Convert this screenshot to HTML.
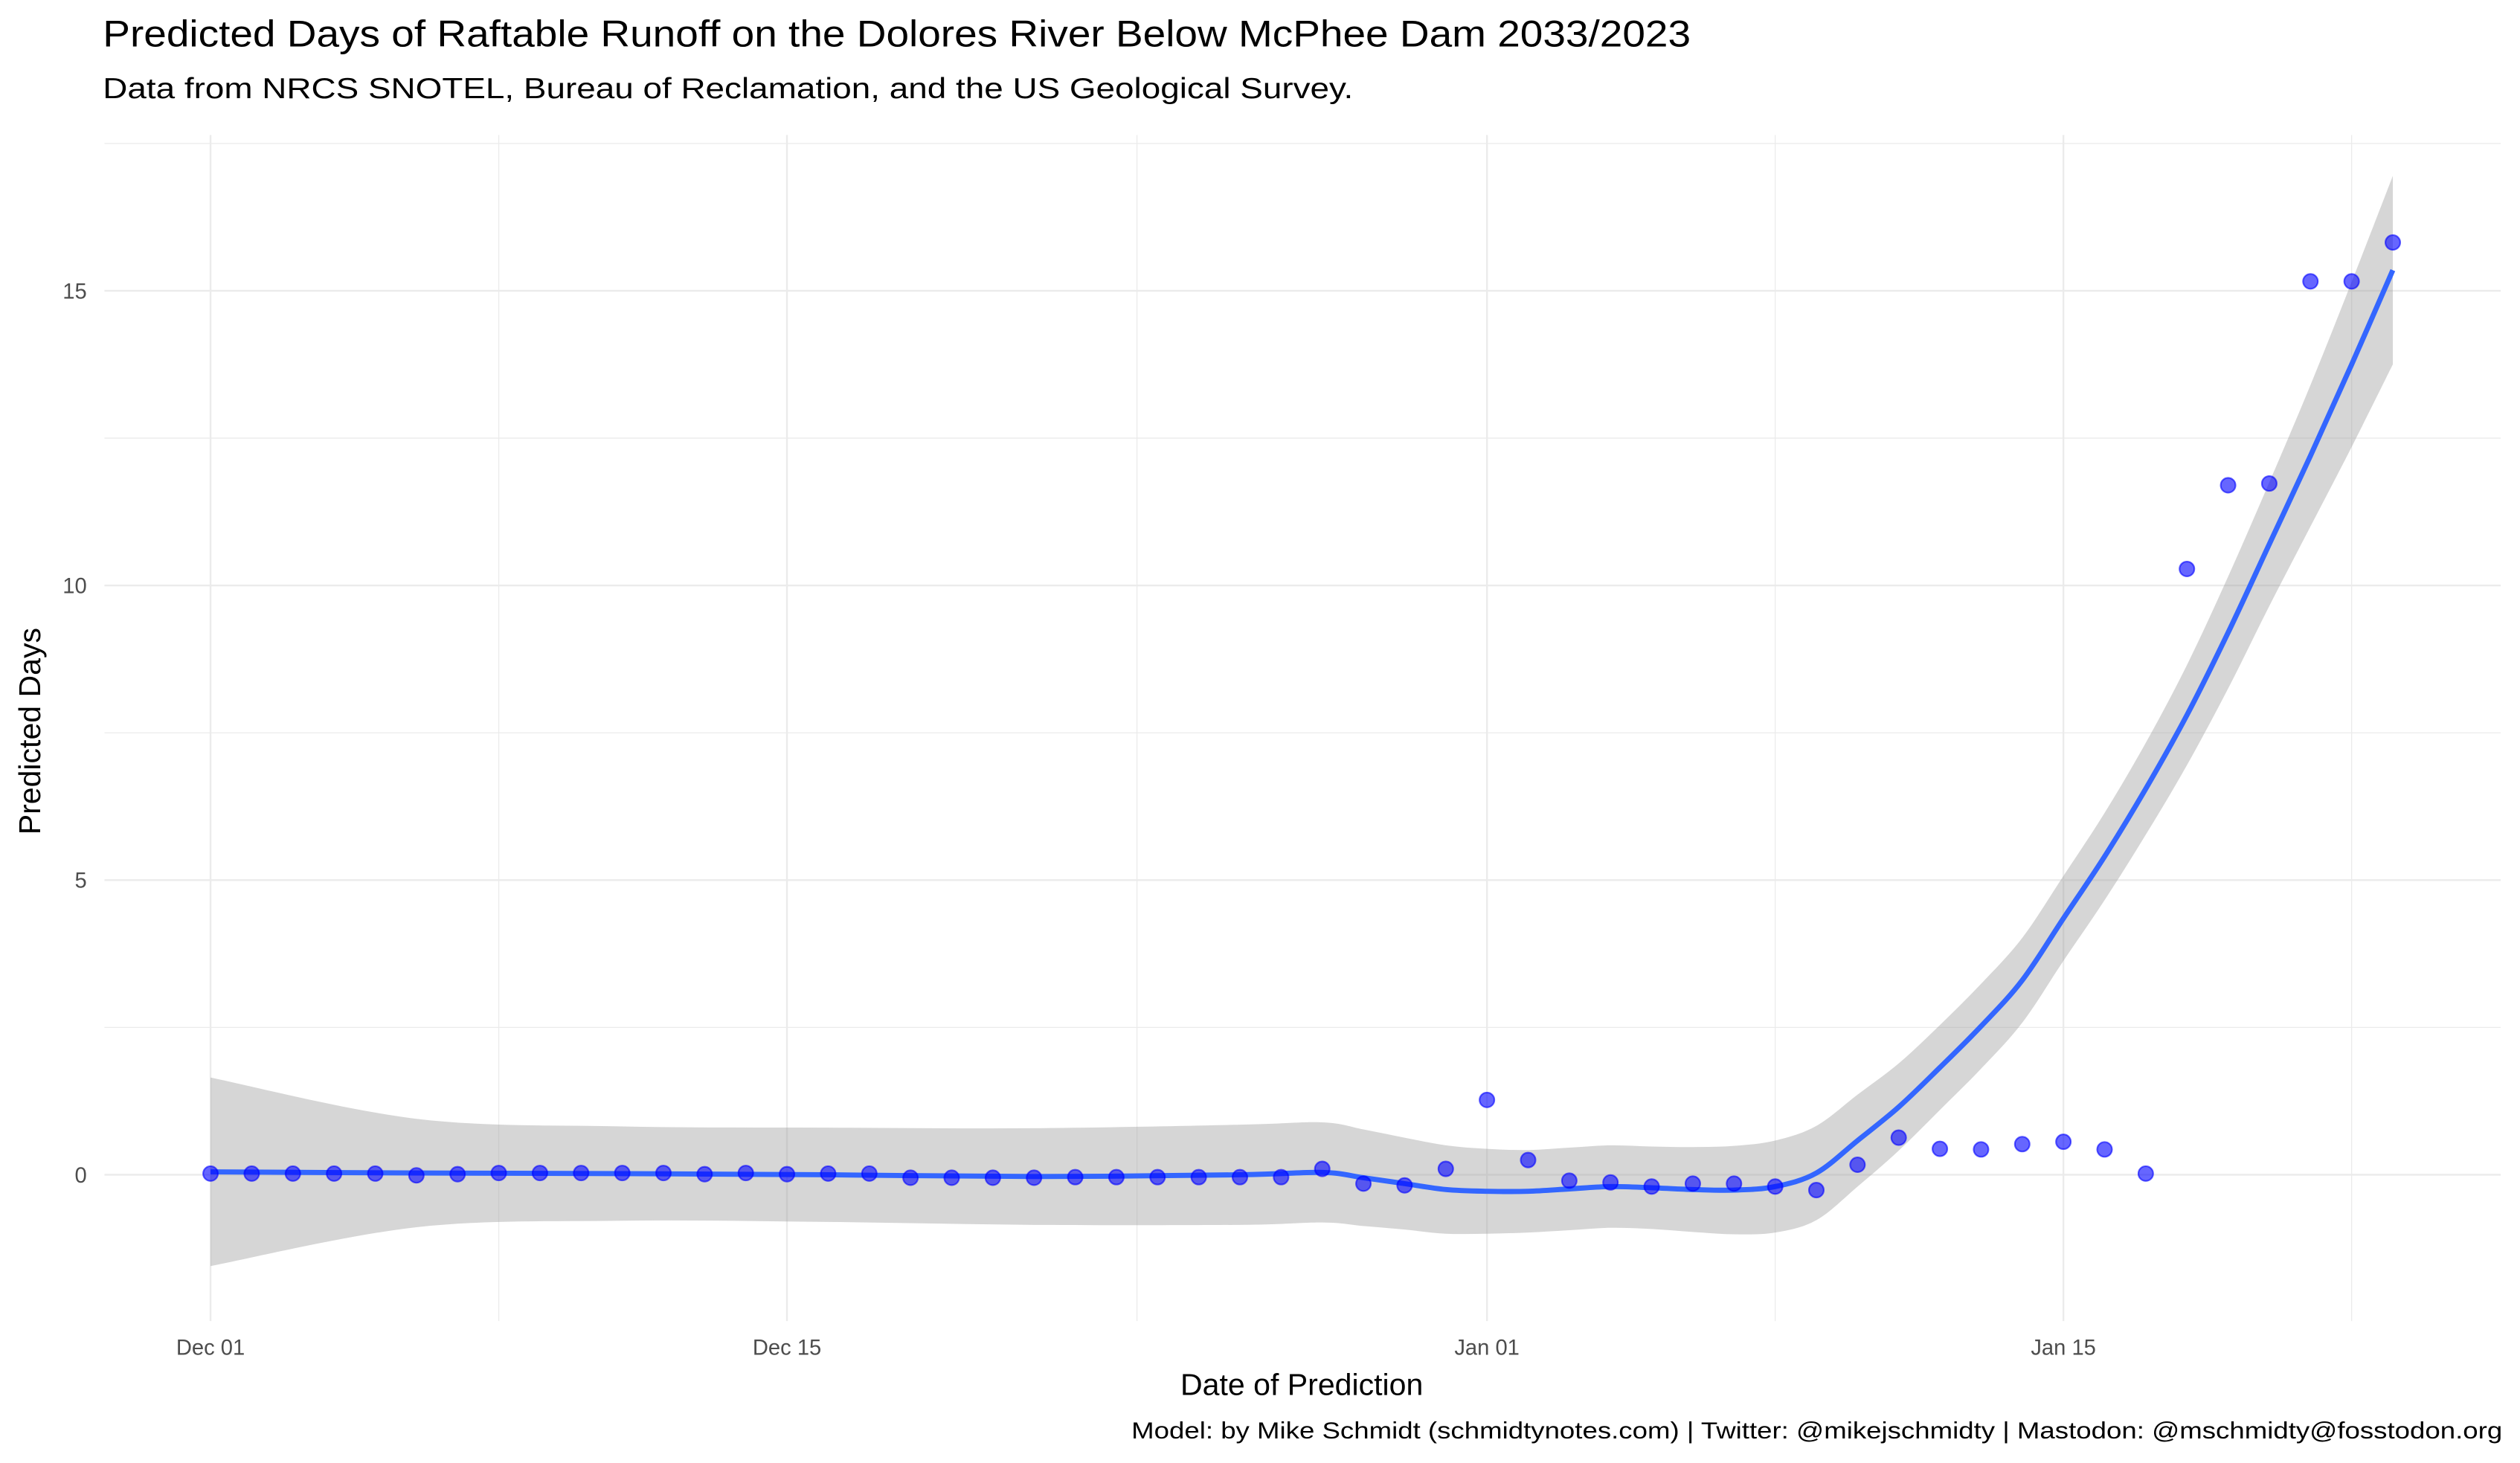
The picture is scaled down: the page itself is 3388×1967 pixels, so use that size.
<!DOCTYPE html>
<html><head><meta charset="utf-8"><title>Dolores River Raftable Runoff</title>
<style>html,body{margin:0;padding:0;background:#fff}svg{display:block}text{font-family:"Liberation Sans",sans-serif}</style>
</head><body>
<svg id="chart" width="3388" height="1967" viewBox="0 0 1568 910.35" xmlns="http://www.w3.org/2000/svg">
<rect width="1568" height="910.35" fill="#fff"/>
<text x="64" y="29" font-size="23" fill="#000" textLength="988" lengthAdjust="spacingAndGlyphs">Predicted Days of Raftable Runoff on the Dolores River Below McPhee Dam 2033/2023</text>
<text x="64" y="61" font-size="18" fill="#000" textLength="778" lengthAdjust="spacingAndGlyphs">Data from NRCS SNOTEL, Bureau of Reclamation, and the US Geological Survey.</text>
<g id="grid"></g>
<g id="ribbon"></g>
<g id="fit"></g>
<g id="points"></g>
<g id="axes"></g>
<text x="810" y="868" font-size="19" text-anchor="middle" fill="#000">Date of Prediction</text>
<text transform="translate(25,455) rotate(-90)" font-size="19" text-anchor="middle" fill="#000">Predicted Days</text>
<text x="1557" y="895" font-size="14.5" text-anchor="end" fill="#000" textLength="853" lengthAdjust="spacingAndGlyphs">Model: by Mike Schmidt (schmidtynotes.com) | Twitter: @mikejschmidty | Mastodon: @mschmidty@fosstodon.org</text>
</svg>
<script>
// observations: day index from Dec 01, predicted days
const obsDays = [0,1,2,3,4,5,6,7,8,9,10,11,12,13,14,15,16,17,18,19,20,21,22,23,24,25,26,27,28,29,30,31,32,33,34,35,36,37,38,39,40,41,42,43,44,45,46,47,48,49,50,51,52,53];
const obsValues = [0.02,0.02,0.02,0.02,0.02,-0.01,0.01,0.03,0.03,0.03,0.03,0.03,0.01,0.03,0.01,0.02,0.02,-0.05,-0.05,-0.05,-0.05,-0.04,-0.04,-0.04,-0.04,-0.04,-0.04,0.1,-0.15,-0.18,0.1,1.27,0.25,-0.1,-0.13,-0.2,-0.15,-0.15,-0.2,-0.26,0.17,0.63,0.44,0.43,0.52,0.56,0.43,0.02,10.28,11.7,11.73,15.16,15.16,15.82];
// smoother fit and half-width of confidence band
const fitDays = [0,5,10,15,20,25,27,28,29,30,31,32,33,34,35,36,37,38,39,40,41,42,43,44,45,46,47,48,49,50,51,52,53];
const fitValues = [0.05,0.03,0.02,0.0,-0.03,0.0,0.04,-0.05,-0.15,-0.25,-0.28,-0.28,-0.24,-0.2,-0.22,-0.25,-0.26,-0.2,0.03,0.58,1.15,1.82,2.52,3.3,4.35,5.4,6.55,7.8,9.2,10.7,12.2,13.75,15.35];
const fitHalfWidth = [1.6,0.92,0.8,0.8,0.82,0.85,0.85,0.82,0.78,0.75,0.72,0.7,0.7,0.7,0.7,0.72,0.75,0.78,0.8,0.78,0.74,0.72,0.72,0.72,0.72,0.74,0.78,0.85,0.95,1.05,1.2,1.4,1.6];
const yTicks = [0,5,10,15];
const yMinor = [2.5,7.5,12.5,17.5];
const xTickDays = [0,14,31,45];
const xTickLabels = ["Dec 01","Dec 15","Jan 01","Jan 15"];
const xMinorDays = [7,22.5,38,52];

const NS = "http://www.w3.org/2000/svg";
const X0 = 131, DX = 25.62, Y0 = 731, DY = 36.67;
const PL = 65, PR = 1556, PT = 84, PB = 822;
function xs(d){return X0 + d*DX;}
function ys(v){return Y0 - v*DY;}
function mk(tag, attrs, parent){const e=document.createElementNS(NS,tag);for(const k in attrs)e.setAttribute(k,attrs[k]);parent.appendChild(e);return e;}
function catmull(pts){
  let d = "M"+pts[0][0].toFixed(2)+","+pts[0][1].toFixed(2);
  for(let i=0;i<pts.length-1;i++){
    const p0=pts[Math.max(i-1,0)],p1=pts[i],p2=pts[i+1],p3=pts[Math.min(i+2,pts.length-1)];
    const c1=[p1[0]+(p2[0]-p0[0])/6,p1[1]+(p2[1]-p0[1])/6];
    const c2=[p2[0]-(p3[0]-p1[0])/6,p2[1]-(p3[1]-p1[1])/6];
    d+=" C"+c1[0].toFixed(2)+","+c1[1].toFixed(2)+" "+c2[0].toFixed(2)+","+c2[1].toFixed(2)+" "+p2[0].toFixed(2)+","+p2[1].toFixed(2);
  }
  return d;
}
const grid=document.getElementById('grid');
yMinor.forEach(v=>{const l=mk('line',{x1:PL,x2:PR,y1:ys(v),y2:ys(v),stroke:'#ebebeb','stroke-width':0.6},grid);

});
xMinorDays.forEach(d=>{const l=mk('line',{x1:xs(d),x2:xs(d),y1:PT,y2:PB,stroke:'#ebebeb','stroke-width':0.6},grid);

});
yTicks.forEach(v=>{const l=mk('line',{x1:PL,x2:PR,y1:ys(v),y2:ys(v),stroke:'#ebebeb','stroke-width':1.1},grid);

});
xTickDays.forEach(d=>{const l=mk('line',{x1:xs(d),x2:xs(d),y1:PT,y2:PB,stroke:'#ebebeb','stroke-width':1.1},grid);

});

const upper=fitDays.map((d,i)=>[xs(d),ys(fitValues[i]+fitHalfWidth[i])]);
const lower=fitDays.map((d,i)=>[xs(d),ys(fitValues[i]-fitHalfWidth[i])]).reverse();
const upPath=catmull(upper);
const loPath=catmull(lower).replace(/^M/,' L');
const rib=mk('path',{d:upPath+loPath+' Z',fill:'#999999','fill-opacity':0.4},document.getElementById('ribbon'));



const fl=mk('path',{d:catmull(fitDays.map((d,i)=>[xs(d),ys(fitValues[i])])),fill:'none',stroke:'#3366FF','stroke-width':3.2},document.getElementById('fit'));



const pg=document.getElementById('points');
obsDays.forEach((d,i)=>{const c=mk('circle',{cx:xs(d),cy:ys(obsValues[i]),r:4.6,fill:'#0000ff','fill-opacity':0.6,stroke:'#0000ff','stroke-opacity':0.6,'stroke-width':1},pg);

});

const ax=document.getElementById('axes');
yTicks.forEach(v=>{const t=mk('text',{x:54,y:ys(v)+4.8,'font-size':13.5,'text-anchor':'end',fill:'#4d4d4d'},ax);t.textContent=String(v);

});
xTickDays.forEach((d,i)=>{const t=mk('text',{x:xs(d),y:843,'font-size':13.5,'text-anchor':'middle',fill:'#4d4d4d'},ax);t.textContent=xTickLabels[i];

});
</script>
</body></html>
